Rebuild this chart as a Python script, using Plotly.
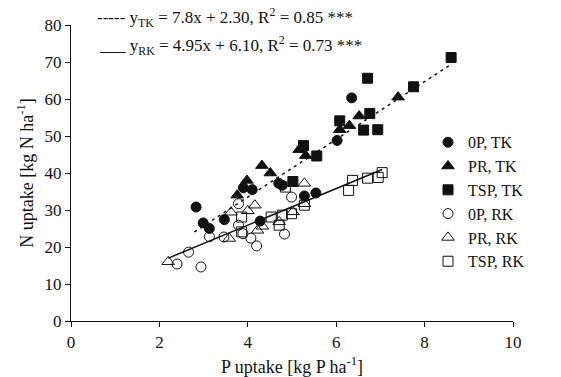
import plotly.graph_objects as go

# ---- data ----
op_tk_x = [2.83, 2.99, 3.13, 3.47, 3.90, 4.10, 4.28, 4.70, 4.78, 5.28, 5.54, 6.02, 6.35]
op_tk_y = [30.8, 26.5, 25.0, 27.4, 36.0, 35.5, 27.0, 37.2, 36.7, 33.8, 34.6, 48.8, 60.3]

pr_tk_x = [3.76, 3.98, 4.32, 4.51, 5.16, 5.31, 6.08, 6.30, 6.52, 7.40]
pr_tk_y = [34.0, 38.0, 42.0, 40.0, 46.3, 44.7, 51.7, 52.8, 55.4, 60.5]

tsp_tk_x = [5.02, 5.26, 5.56, 6.08, 6.62, 6.94, 6.76, 6.71, 7.75, 8.60]
tsp_tk_y = [37.7, 47.4, 44.6, 54.1, 51.6, 51.7, 56.1, 65.6, 63.3, 71.2]

op_rk_x = [2.40, 2.66, 2.94, 3.13, 3.46, 3.79, 3.79, 3.89, 4.07, 4.20, 4.83, 4.99]
op_rk_y = [15.4, 18.6, 14.6, 22.8, 22.7, 31.7, 25.9, 23.6, 22.4, 20.3, 23.5, 33.5]

pr_rk_x = [2.20, 3.58, 3.62, 4.00, 4.16, 4.22, 4.33, 4.71, 5.02, 5.28, 5.28]
pr_rk_y = [16.0, 22.3, 29.4, 29.8, 31.3, 24.5, 25.6, 26.8, 29.5, 37.2, 31.7]

tsp_rk_x = [3.86, 3.86, 4.53, 4.78, 4.99, 4.71, 4.85, 5.28, 6.28, 6.37, 6.71, 6.95, 7.04]
tsp_rk_y = [28.1, 24.1, 28.1, 28.6, 29.0, 25.9, 36.2, 31.3, 35.3, 38.0, 38.6, 38.8, 40.1]

# regression lines: slope, intercept and x extent
tk_coef = [7.8, 2.30]
tk_xrange = [2.79, 8.60]
rk_coef = [4.95, 6.10]
rk_xrange = [2.20, 7.04]

eq_tk = "----- y<sub>TK</sub> = 7.8x + 2.30, R<sup>2</sup> = 0.85 ***"
eq_rk = "___ y<sub>RK</sub> = 4.95x + 6.10, R<sup>2</sup> = 0.73 ***"

x_title = "P uptake [kg P ha<sup>-1</sup>]"
y_title = "N uptake [kg N ha<sup>-1</sup>]"

FONT = "Liberation Serif, Times New Roman, serif"
BLK = "#111111"

fig = go.Figure()

fig.add_trace(go.Scatter(x=tk_xrange, y=[tk_coef[0] * v + tk_coef[1] for v in tk_xrange],
                         mode="lines",
                         line=dict(color=BLK, width=1.5, dash="3px,4px"),
                         showlegend=False, hoverinfo="skip"))
fig.add_trace(go.Scatter(x=rk_xrange, y=[rk_coef[0] * v + rk_coef[1] for v in rk_xrange],
                         mode="lines",
                         line=dict(color=BLK, width=1.5),
                         showlegend=False, hoverinfo="skip"))

series = [
    ("0P, TK", op_tk_x, op_tk_y, "circle", 10),
    ("PR, TK", pr_tk_x, pr_tk_y, "triangle-up", 11),
    ("TSP, TK", tsp_tk_x, tsp_tk_y, "square", 10),
    ("0P, RK", op_rk_x, op_rk_y, "circle-open", 10),
    ("PR, RK", pr_rk_x, pr_rk_y, "triangle-up-open", 11),
    ("TSP, RK", tsp_rk_x, tsp_rk_y, "square-open", 10),
]
for name, xs, ys, sym, sz in series:
    fig.add_trace(go.Scatter(
        x=xs, y=ys, mode="markers", name=name,
        marker=dict(symbol=sym, size=sz, color=BLK,
                    line=dict(color=BLK, width=1))))

fig.add_annotation(text=eq_tk, xref="paper", yref="paper",
                   x=(95 - 71) / 442, y=(321 - 17) / 296.5,
                   xanchor="left", yanchor="middle", showarrow=False,
                   font=dict(family=FONT, size=17, color=BLK))
fig.add_annotation(text=eq_rk, xref="paper", yref="paper",
                   x=(97 - 71) / 442, y=(321 - 45) / 296.5,
                   xanchor="left", yanchor="middle", showarrow=False,
                   font=dict(family=FONT, size=17, color=BLK))

fig.update_layout(
    width=561, height=377,
    margin=dict(l=71, r=48, t=24.5, b=56),
    paper_bgcolor="white", plot_bgcolor="white",
    font=dict(family=FONT, size=17, color=BLK),
    legend=dict(x=(428 - 71) / 442, y=(321 - 125) / 296.5,
                xanchor="left", yanchor="top",
                bgcolor="rgba(0,0,0,0)", borderwidth=0,
                font=dict(family=FONT, size=16, color=BLK),
                tracegroupgap=0),
    xaxis=dict(range=[0, 10], tickmode="array", tickvals=[0, 2, 4, 6, 8, 10],
               showline=True, linecolor=BLK, linewidth=1.2,
               ticks="outside", ticklen=5, tickcolor=BLK, tickwidth=1.2,
               showgrid=False, zeroline=False, automargin=False,
               tickfont=dict(family=FONT, size=17, color=BLK),
               title=dict(text=x_title, standoff=12,
                          font=dict(family=FONT, size=18, color=BLK))),
    yaxis=dict(range=[0, 80], tickmode="array",
               tickvals=[0, 10, 20, 30, 40, 50, 60, 70, 80],
               showline=True, linecolor=BLK, linewidth=1.2,
               ticks="outside", ticklen=5, tickcolor=BLK, tickwidth=1.2,
               showgrid=False, zeroline=False,
               tickfont=dict(family=FONT, size=17, color=BLK),
               title=dict(text=y_title, standoff=6,
                          font=dict(family=FONT, size=18, color=BLK))),
)

fig.write_html("out.html")
